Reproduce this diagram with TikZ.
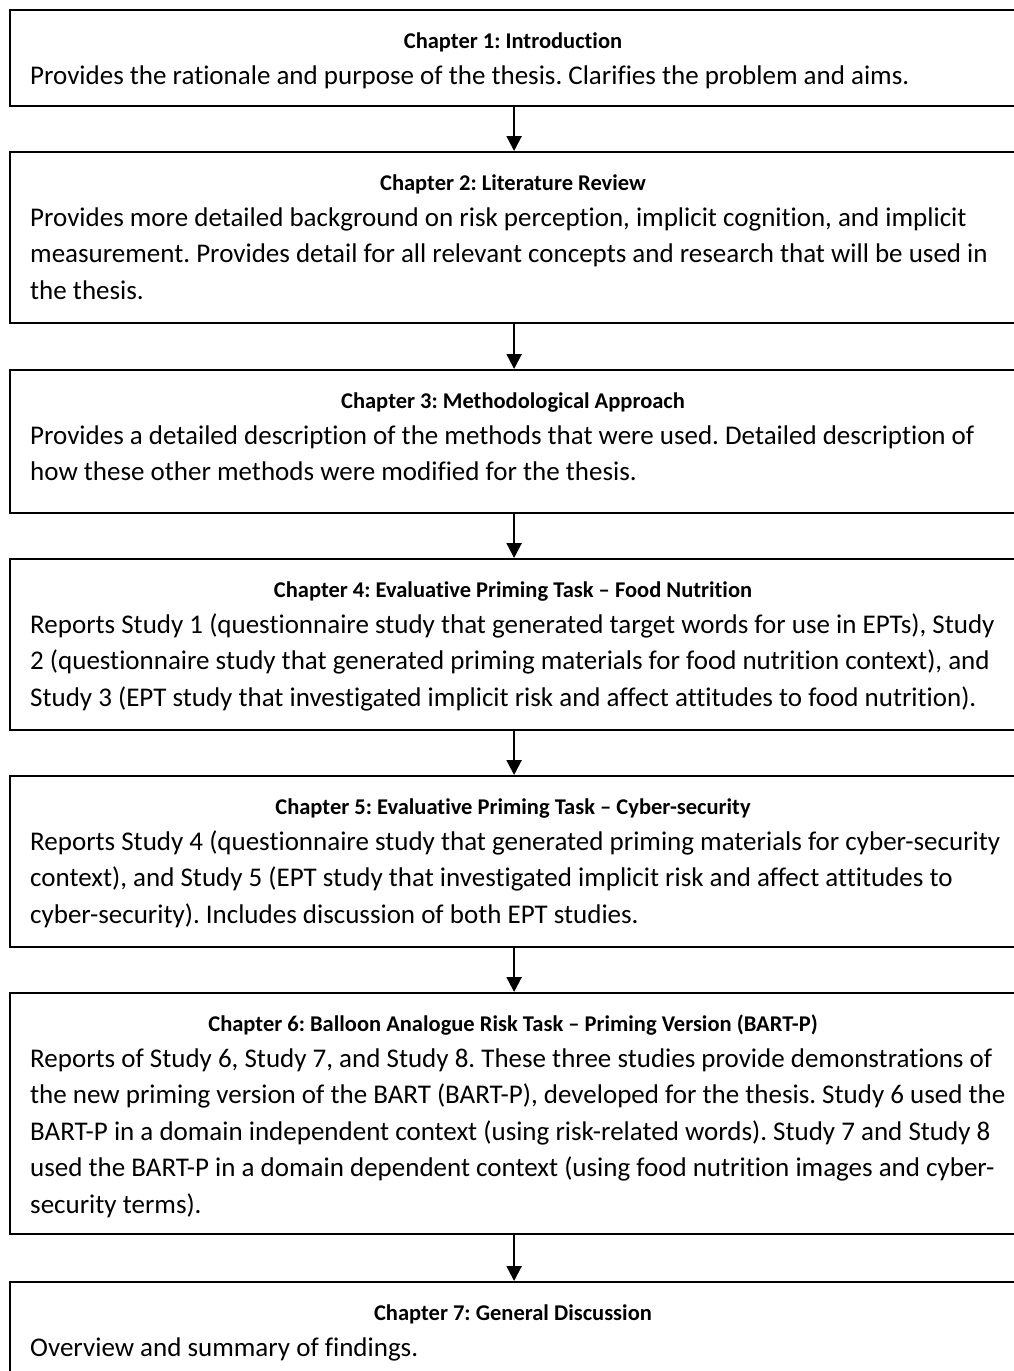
\documentclass[tikz,border=0pt]{standalone}
\usepackage{fontspec}
\setmainfont{Carlito}[Ligatures=NoCommon]
\usetikzlibrary{arrows.meta}
\frenchspacing
\begin{document}
\begin{tikzpicture}[x=1pt,y=-1pt,
  chapbox/.style={draw=black, line width=2.2pt, rectangle, minimum width=1008pt,
    inner sep=0pt, anchor=north west},
  ttl/.style={font=\fontsize{22.5}{30}\selectfont\bfseries, inner sep=0pt, anchor=base},
  % multi-line descriptions are anchored at the baseline of their last line
  body/.style={font=\fontsize{27}{36.5}\selectfont, align=left, inner sep=0pt, anchor=base west},
  flow/.style={draw=black, line width=2.2pt, -{Triangle[length=15pt,width=15pt]}}]
\useasboundingbox (0,0) rectangle (1014,1371);
\clip (0,0) rectangle (1014,1371);

% chapter boxes
\node[chapbox, minimum height=96pt]  (b1) at (9,9)    {};
\node[chapbox, minimum height=171pt] (b2) at (9,151)  {};
\node[chapbox, minimum height=143pt] (b3) at (9,369)  {};
\node[chapbox, minimum height=171pt] (b4) at (9,558)  {};
\node[chapbox, minimum height=171pt] (b5) at (9,775)  {};
\node[chapbox, minimum height=241pt] (b6) at (9,992)  {};
\node[chapbox, minimum height=140pt] (b7) at (9,1281) {};

% titles
\node[ttl] (t1) at (513,48)   {Chapter 1: Introduction};
\node[ttl] (t2) at (513,190)  {Chapter 2: Literature Review};
\node[ttl] (t3) at (513,408)  {Chapter 3: Methodological Approach};
\node[ttl] (t4) at (513,597)  {Chapter 4: Evaluative Priming Task – Food Nutrition};
\node[ttl] (t5) at (513,814)  {Chapter 5: Evaluative Priming Task – Cyber-security};
\node[ttl] (t6) at (513,1031) {Chapter 6: Balloon Analogue Risk Task – Priming Version (BART-P)};
\node[ttl] (t7) at (513,1320) {Chapter 7: General Discussion};

% descriptions
\node[body] (d1) at (30,84) {Provides the rationale and purpose of the thesis. Clarifies the problem and aims.};
\node[body] (d2) at (30,299) {Provides more detailed background on risk perception, implicit cognition, and implicit\\
measurement. Provides detail for all relevant concepts and research that will be used in\\
the thesis.};
\node[body] (d3) at (30,480.5) {Provides a detailed description of the methods that were used. Detailed description of\\
how these other methods were modified for the thesis.};
\node[body] (d4) at (30,706) {Reports Study 1 (questionnaire study that generated target words for use in EPTs), Study\\
2 (questionnaire study that generated priming materials for food nutrition context), and\\
Study 3 (EPT study that investigated implicit risk and affect attitudes to food nutrition).};
\node[body] (d5) at (30,923) {Reports Study 4 (questionnaire study that generated priming materials for cyber-security\\
context), and Study 5 (EPT study that investigated implicit risk and affect attitudes to\\
cyber-security). Includes discussion of both EPT studies.};
\node[body] (d6) at (30,1213) {Reports of Study 6, Study 7, and Study 8. These three studies provide demonstrations of\\
the new priming version of the BART (BART-P), developed for the thesis. Study 6 used the\\
BART-P in a domain independent context (using risk-related words). Study 7 and Study 8\\
used the BART-P in a domain dependent context (using food nutrition images and cyber-\\
security terms).};
\node[body] (d7) at (30,1356) {Overview and summary of findings.};

% reading order
\draw[flow] (b1.south) -- (b2.north);
\draw[flow] (b2.south) -- (b3.north);
\draw[flow] (b3.south) -- (b4.north);
\draw[flow] (b4.south) -- (b5.north);
\draw[flow] (b5.south) -- (b6.north);
\draw[flow] (b6.south) -- (b7.north);
\end{tikzpicture}
\end{document}
